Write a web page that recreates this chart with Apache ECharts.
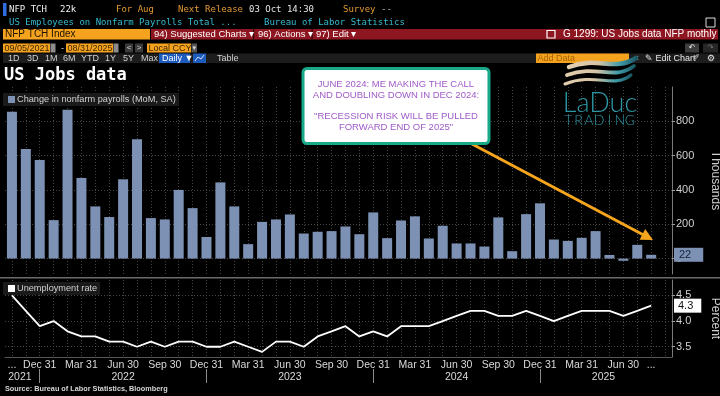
<!DOCTYPE html>
<html>
<head>
<meta charset="utf-8">
<script src="https://cdn.jsdelivr.net/npm/echarts@6/dist/echarts.min.js"></script>
<style>
html, body { margin: 0; padding: 0; background: #000; }
#main { width: 720px; height: 396px; }
</style>
</head>
<body>
<div id="main"></div>
<script>
// monthly releases, Oct 2021 .. Aug 2025
var months = [
    'Oct 2021', 'Nov 2021', 'Dec 2021',
    'Jan 2022', 'Feb 2022', 'Mar 2022', 'Apr 2022', 'May 2022', 'Jun 2022',
    'Jul 2022', 'Aug 2022', 'Sep 2022', 'Oct 2022', 'Nov 2022', 'Dec 2022',
    'Jan 2023', 'Feb 2023', 'Mar 2023', 'Apr 2023', 'May 2023', 'Jun 2023',
    'Jul 2023', 'Aug 2023', 'Sep 2023', 'Oct 2023', 'Nov 2023', 'Dec 2023',
    'Jan 2024', 'Feb 2024', 'Mar 2024', 'Apr 2024', 'May 2024', 'Jun 2024',
    'Jul 2024', 'Aug 2024', 'Sep 2024', 'Oct 2024', 'Nov 2024', 'Dec 2024',
    'Jan 2025', 'Feb 2025', 'Mar 2025', 'Apr 2025', 'May 2025', 'Jun 2025',
    'Jul 2025', 'Aug 2025'
];
// change in nonfarm payrolls, thousands
var payrolls = [
    856, 638, 575,
    224, 868, 470, 304, 242, 462, 696, 236, 228, 400, 294, 126,
    444, 304, 84, 214, 228, 257, 146, 156, 160, 187, 142, 269,
    119, 222, 246, 117, 191, 88, 88, 70, 240, 43, 259, 322,
    111, 103, 121, 160, 21, -13, 80, 22
];
// unemployment rate, percent
var unemployment = [
    4.5, 4.2, 3.9,
    4.0, 3.8, 3.7, 3.7, 3.6, 3.6, 3.5, 3.6, 3.5, 3.6, 3.6, 3.5,
    3.5, 3.6, 3.5, 3.4, 3.6, 3.6, 3.5, 3.7, 3.8, 3.9, 3.7, 3.8,
    3.7, 3.9, 3.9, 3.9, 4.0, 4.1, 4.2, 4.2, 4.1, 4.1, 4.2, 4.1,
    4.0, 4.1, 4.2, 4.2, 4.2, 4.1, 4.2, 4.3
];
var quarterLabels = { Mar: 'Mar 31', Jun: 'Jun 30', Sep: 'Sep 30', Dec: 'Dec 31' };
var yearLabels = { 'Oct 2021': '{r|2021}', 'Jun 2022': '2022', 'Jun 2023': '2023', 'Jun 2024': '2024', 'May 2025': '{l|2025}' };
var payrollLast = '22';
var rateLast = '4.3';

// one empty slot at the right edge, like the terminal leaves
var cats = months.concat(['']);

var mono = '"DejaVu Sans Mono", monospace';
var sans = '"Liberation Sans", Arial, sans-serif';
var sym = '"DejaVu Sans", sans-serif';
var orange = '#f5a31f';
var gridLine = { color: '#464646', type: [1, 2], width: 1 };

function rect(x, y, w, h, fill, more) {
    var el = { type: 'rect', silent: true, shape: { x: x, y: y, width: w, height: h }, style: { fill: fill } };
    if (more) { for (var k in more) { el[k] = more[k]; } }
    return el;
}
function txt(x, y, s, color, font, align, z) {
    return {
        type: 'text', silent: true, x: x, y: y, z: z || 0,
        style: { text: s, fill: color, font: font, textAlign: align || 'left', align: align || 'left',
                 textVerticalAlign: 'middle', verticalAlign: 'middle' }
    };
}

var graphics = [];
//顶部行
graphics.push(rect(3, 3, 3.5, 13, '#2f6ee0'));
graphics.push(txt(9, 9.5, 'NFP TCH', '#f2f2f2', '9px ' + mono));
graphics.push(txt(60, 9.5, '22k', '#f2f2f2', '9px ' + mono));
graphics.push(txt(116, 9.5, 'For Aug', '#e39a35', '9px ' + mono));
graphics.push(txt(178, 9.5, 'Next Release', '#e39a35', '9px ' + mono));
graphics.push(txt(249, 9.5, '03 Oct 14:30', '#e6e6e6', '9px ' + mono));
graphics.push(txt(343, 9.5, 'Survey', '#e39a35', '9px ' + mono));
graphics.push(txt(381, 9.5, '--', '#bbbbbb', '9px ' + mono));
graphics.push(txt(9, 23, 'US Employees on Nonfarm Payrolls Total ...', '#35bcd0', '9px ' + mono));
graphics.push(txt(264, 23, 'Bureau of Labor Statistics', '#35bcd0', '9px ' + mono));
graphics.push(rect(706, 18, 9, 9, 'none', { style: { fill: 'none', stroke: '#ddd', lineWidth: 1 } }));
// 工具栏
graphics.push(rect(3, 29, 147, 10.5, orange));
graphics.push(txt(5, 34.5, 'NFP TCH Index', '#1c1200', '10px ' + sans));
graphics.push(rect(151, 29, 567, 10.5, '#8e1620'));
graphics.push(rect(253, 29, 1.2, 10.5, '#2a0508'));
graphics.push(rect(311.5, 29, 1.2, 10.5, '#2a0508'));
graphics.push(txt(154, 34.5, '94) Suggested Charts \u25BE', '#fff', '9.5px ' + sans));
graphics.push(txt(258, 34.5, '96) Actions \u25BE', '#fff', '9.5px ' + sans));
graphics.push(txt(316, 34.5, '97) Edit \u25BE', '#fff', '9.5px ' + sans));
graphics.push(rect(547, 30.5, 8, 7.5, 'none', { style: { fill: 'none', stroke: '#fff', lineWidth: 1.2 } }));
graphics.push(txt(563, 34.5, 'G 1299: US Jobs data NFP mothly', '#fff', '10px ' + sans));
// 日期行
graphics.push(rect(3, 43.5, 47, 9, orange));
graphics.push(txt(4.5, 48.2, '09/05/2021', '#3d2600', '9px ' + sans));
graphics.push(rect(50.5, 43.5, 5, 9, '#8c8c8c'));
graphics.push(txt(61, 48.2, '-', '#ddd', '9px ' + sans));
graphics.push(rect(66, 43.5, 47, 9, orange));
graphics.push(txt(67.5, 48.2, '08/31/2025', '#3d2600', '9px ' + sans));
graphics.push(rect(113.5, 43.5, 5, 9, '#8c8c8c'));
graphics.push(rect(125, 43.5, 8, 9, '#3a3a3a'));
graphics.push(txt(129, 48.2, '<', '#ddd', '8px ' + sans, 'center'));
graphics.push(rect(135, 43.5, 8, 9, '#3a3a3a'));
graphics.push(txt(139, 48.2, '>', '#ddd', '8px ' + sans, 'center'));
graphics.push(rect(147, 43.5, 44, 9, orange));
graphics.push(txt(148.5, 48.2, 'Local CCY', '#3d2600', '9px ' + sans));
graphics.push(rect(191.5, 43.5, 5.5, 9, '#555'));
graphics.push(txt(194.2, 48.2, '\u25BE', '#ddd', '7px ' + sym, 'center'));
graphics.push(rect(685, 43.5, 14, 9, '#3c3c3c'));
graphics.push(txt(692, 48.2, '\u21B6', '#eee', '8px ' + sym, 'center'));
graphics.push(rect(703, 43.5, 15, 9, '#262626'));
graphics.push(txt(710.5, 48.2, '\u21B7', '#777', '8px ' + sym, 'center'));
// 周期行
graphics.push(rect(3, 53.5, 717, 9.5, '#1d1d1d'));
var periods = [['1D', 8], ['3D', 27], ['1M', 45], ['6M', 63], ['YTD', 81], ['1Y', 105], ['5Y', 123], ['Max', 141]];
for (var p = 0; p < periods.length; p++) {
    graphics.push(txt(periods[p][1], 58.3, periods[p][0], '#cfcfcf', '9px ' + sans));
}
graphics.push(rect(159, 53.5, 31, 9.5, '#1d5bbd'));
graphics.push(txt(162, 58.3, 'Daily \u25BC', '#fff', '9px ' + sans));
graphics.push(rect(193, 53.5, 13, 9.5, '#1d5bbd'));
graphics.push({ type: 'polyline', silent: true, shape: { points: [[195, 61], [198, 57], [201, 59], [204, 55]] }, style: { stroke: '#cfe0ff', lineWidth: 1, fill: 'none' } });
graphics.push(txt(217, 58.3, 'Table', '#d0d0d0', '9px ' + sans));
graphics.push(rect(536, 53.5, 93, 9.5, orange));
graphics.push(txt(537.5, 58.3, 'Add Data', '#a86200', '9px ' + sans));
graphics.push(txt(633, 58.3, '\u00AB', '#ddd', '10px ' + sym));
graphics.push(txt(645, 58.3, '\u270E Edit Chart', '#e6e6e6', '9px ' + sans));
graphics.push(txt(693, 58.3, '\u2710', '#cfcfcf', '8px ' + sym));
graphics.push(txt(707, 58.3, '\u2699', '#e6e6e6', '9px ' + sym));
// 标题
graphics.push(txt(4, 75.5, 'US Jobs data', '#ffffff', 'bold 17px ' + mono));
// 分隔线
graphics.push(rect(0, 277, 720, 1.6, '#6b6b6b'));
graphics.push(txt(5, 388.5, 'Source: Bureau of Labor Statistics, Bloomberg', '#d6d6d6', 'bold 7.3px ' + sans));

// LaDuc logo
var waveGrad = { type: 'linear', x: 0, y: 0, x2: 1, y2: 0, colorStops: [{ offset: 0, color: '#e4cfae' }, { offset: 0.45, color: '#d6c4a6' }, { offset: 0.75, color: '#3d9aa6' }, { offset: 1, color: '#16505c' }] };
var waves = [
    [569, 67, 598, 56, 614, 72, 636, 58],
    [567, 75, 597, 64, 614, 81, 634, 66],
    [565, 84, 595, 72, 614, 89, 631, 75]
];
for (var w = 0; w < waves.length; w++) {
    var c = waves[w];
    graphics.push({ type: 'bezierCurve', silent: true, z: 50,
                    shape: { x1: c[0], y1: c[1], cpx1: c[2], cpy1: c[3], cpx2: c[4], cpy2: c[5], x2: c[6], y2: c[7] },
                    style: { fill: 'none', stroke: waveGrad, lineWidth: 4.5 - w * 0.7, lineCap: 'round' } });
}
graphics.push(txt(600, 103, 'LaDuc', '#2e97a5', '300 27px Lato, "Open Sans", sans-serif', 'center', 50));
var brand = 'TRADING';
for (var b = 0; b < brand.length; b++) {
    graphics.push(txt(568.2 + b * 10.3, 120.5, brand.charAt(b), '#2e97a5', '300 14px Lato, "Open Sans", sans-serif', 'center', 50));
}

// 箭头 + 注释框
graphics.push({ type: 'line', silent: true, z: 90, shape: { x1: 440, y1: 127, x2: 645, y2: 235.8 }, style: { stroke: '#f6a51d', lineWidth: 3 } });
graphics.push({ type: 'polygon', silent: true, z: 91, shape: { points: [[653, 240], [639.6, 239.7], [645.2, 229.1]] }, style: { fill: '#f6a51d' } });
graphics.push({ type: 'rect', silent: true, z: 95, shape: { x: 303, y: 68.5, width: 186, height: 75, r: 4 }, style: { fill: '#ffffff', stroke: '#19a888', lineWidth: 3 } });
var noteLines = [['JUNE 2024: ME MAKING THE CALL', 84.3], ['AND DOUBLING DOWN IN DEC 2024:', 95], ['"RECESSION RISK WILL BE PULLED', 116.7], ['FORWARD END OF 2025"', 127.3]];
for (var n = 0; n < noteLines.length; n++) {
    graphics.push(txt(396, noteLines[n][1], noteLines[n][0], '#a05ac8', '9.5px ' + sans, 'center', 96));
}

var hidden = { color: 'rgba(0,0,0,0)', width: 1 };
var chart = echarts.init(document.getElementById('main'), null, { renderer: 'canvas' });
var option = {
    backgroundColor: '#000',
    animation: false,
    legend: [
        { data: ['Change in nonfarm payrolls (MoM, SA)'], left: 3, top: 93, padding: [2, 3, 2, 5], backgroundColor: '#1a1a1a',
          icon: 'rect', itemWidth: 7, itemHeight: 7, itemGap: 4, textStyle: { color: '#d2d2d2', fontSize: 9.2, fontFamily: sans, padding: [0, 0, 0, -3] } },
        { data: ['Unemployment rate'], left: 3, top: 282, padding: [2, 3, 2, 5], backgroundColor: '#1a1a1a',
          icon: 'rect', itemWidth: 7, itemHeight: 7, itemGap: 4, textStyle: { color: '#d2d2d2', fontSize: 9.2, fontFamily: sans, padding: [0, 0, 0, -3] } }
    ],
    grid: [
        { left: 5, right: 48, top: 87, bottom: 122, outerBoundsMode: 'none' },
        { left: 5, right: 48, top: 280, bottom: 39, outerBoundsMode: 'none' }
    ],
    xAxis: [
        { type: 'category', gridIndex: 0, data: cats, boundaryGap: true,
          axisLine: { show: false }, axisTick: { show: false }, axisLabel: { show: false },
          splitLine: { show: true, interval: 0, alignWithLabel: true, lineStyle: gridLine } },
        { type: 'category', gridIndex: 1, data: cats, boundaryGap: true,
          axisLine: { show: true, lineStyle: { color: '#555' } }, axisTick: { show: false },
          splitLine: { show: true, interval: 0, alignWithLabel: true, lineStyle: gridLine },
          axisLabel: {
              color: '#dadada', fontSize: 10.5, fontFamily: sans, margin: 3,
              interval: function (i, v) { return i === 0 || i === months.length - 1 || !!quarterLabels[v.slice(0, 3)]; },
              formatter: function (v, i) {
                  if (i === 0 || i === months.length - 1) { return '...'; }
                  return quarterLabels[v.slice(0, 3)] || '';
              }
          } },
        { type: 'category', gridIndex: 1, data: cats, boundaryGap: true, position: 'bottom', offset: 12,
          axisLine: { show: false },
          axisTick: { show: true, alignWithLabel: true, length: 14, lineStyle: { color: '#8a8a8a' },
                      interval: function (i, v) { return v.slice(0, 3) === 'Dec'; } },
          splitLine: { show: false },
          axisLabel: {
              color: '#dadada', fontSize: 10.5, fontFamily: sans, margin: 3,
              interval: function (i, v) { return !!yearLabels[v]; },
              formatter: function (v) { return yearLabels[v] || ''; },
              rich: { r: { padding: [0, 0, 0, 16], fontSize: 10.5, color: '#dadada' }, l: { padding: [0, 12, 0, 0], fontSize: 10.5, color: '#dadada' } }
          } }
    ],
    yAxis: [
        { type: 'value', gridIndex: 0, position: 'right', min: -90, max: 1000, splitNumber: 5,
          name: 'Thousands', nameLocation: 'middle', nameRotate: -90, nameGap: 37, nameMoveOverlap: false,
          nameTextStyle: { color: '#cfcfcf', fontSize: 12, fontFamily: sans },
          axisLine: { show: true, lineStyle: { color: '#7a7a7a' } },
          axisTick: { show: true, length: 3, lineStyle: { color: '#9a9a9a' } },
          axisLabel: { color: '#d0d0d0', fontSize: 11, fontFamily: sans, margin: 4, showMinLabel: false, showMaxLabel: false },
          splitLine: { show: true, showMinLine: false, showMaxLine: false, lineStyle: gridLine } },
        { type: 'value', gridIndex: 1, position: 'right', min: 3.3, max: 4.8, splitNumber: 3,
          name: 'Percent', nameLocation: 'middle', nameRotate: -90, nameGap: 37, nameMoveOverlap: false,
          nameTextStyle: { color: '#cfcfcf', fontSize: 12, fontFamily: sans },
          axisLine: { show: true, lineStyle: { color: '#7a7a7a' } },
          axisTick: { show: true, length: 3, lineStyle: { color: '#9a9a9a' } },
          axisLabel: { color: '#d0d0d0', fontSize: 11, fontFamily: sans, margin: 4, showMinLabel: false, showMaxLabel: false,
                       formatter: function (v) { return v.toFixed(1); } },
          splitLine: { show: true, showMinLine: false, showMaxLine: false, lineStyle: gridLine } }
    ],
    series: [
        { name: 'Change in nonfarm payrolls (MoM, SA)', type: 'bar', xAxisIndex: 0, yAxisIndex: 0,
          data: payrolls, barWidth: 10, itemStyle: { color: '#7d91b4' },
          markLine: { silent: true, symbol: ['none', 'none'], lineStyle: hidden,
                      data: [{ yAxis: payrolls[payrolls.length - 1] }],
                      label: { show: true, position: 'end', distance: 2, formatter: payrollLast, color: '#14223a', fontSize: 11, fontFamily: sans,
                               backgroundColor: '#7d91b4', padding: [2, 12, 1, 5], opacity: 1 } } },
        { name: 'Unemployment rate', type: 'line', xAxisIndex: 1, yAxisIndex: 1,
          data: unemployment, symbol: 'none', itemStyle: { color: '#ffffff' }, lineStyle: { color: '#ffffff', width: 1.8 },
          markLine: { silent: true, symbol: ['none', 'none'], lineStyle: hidden,
                      data: [{ yAxis: unemployment[unemployment.length - 1] }],
                      label: { show: true, position: 'end', distance: 2, formatter: rateLast, color: '#111', fontSize: 11, fontFamily: sans,
                               backgroundColor: '#ffffff', padding: [2, 8, 1, 4], opacity: 1 } } }
    ],
    graphic: { elements: graphics }
};
chart.setOption(option);
</script>
</body>
</html>
